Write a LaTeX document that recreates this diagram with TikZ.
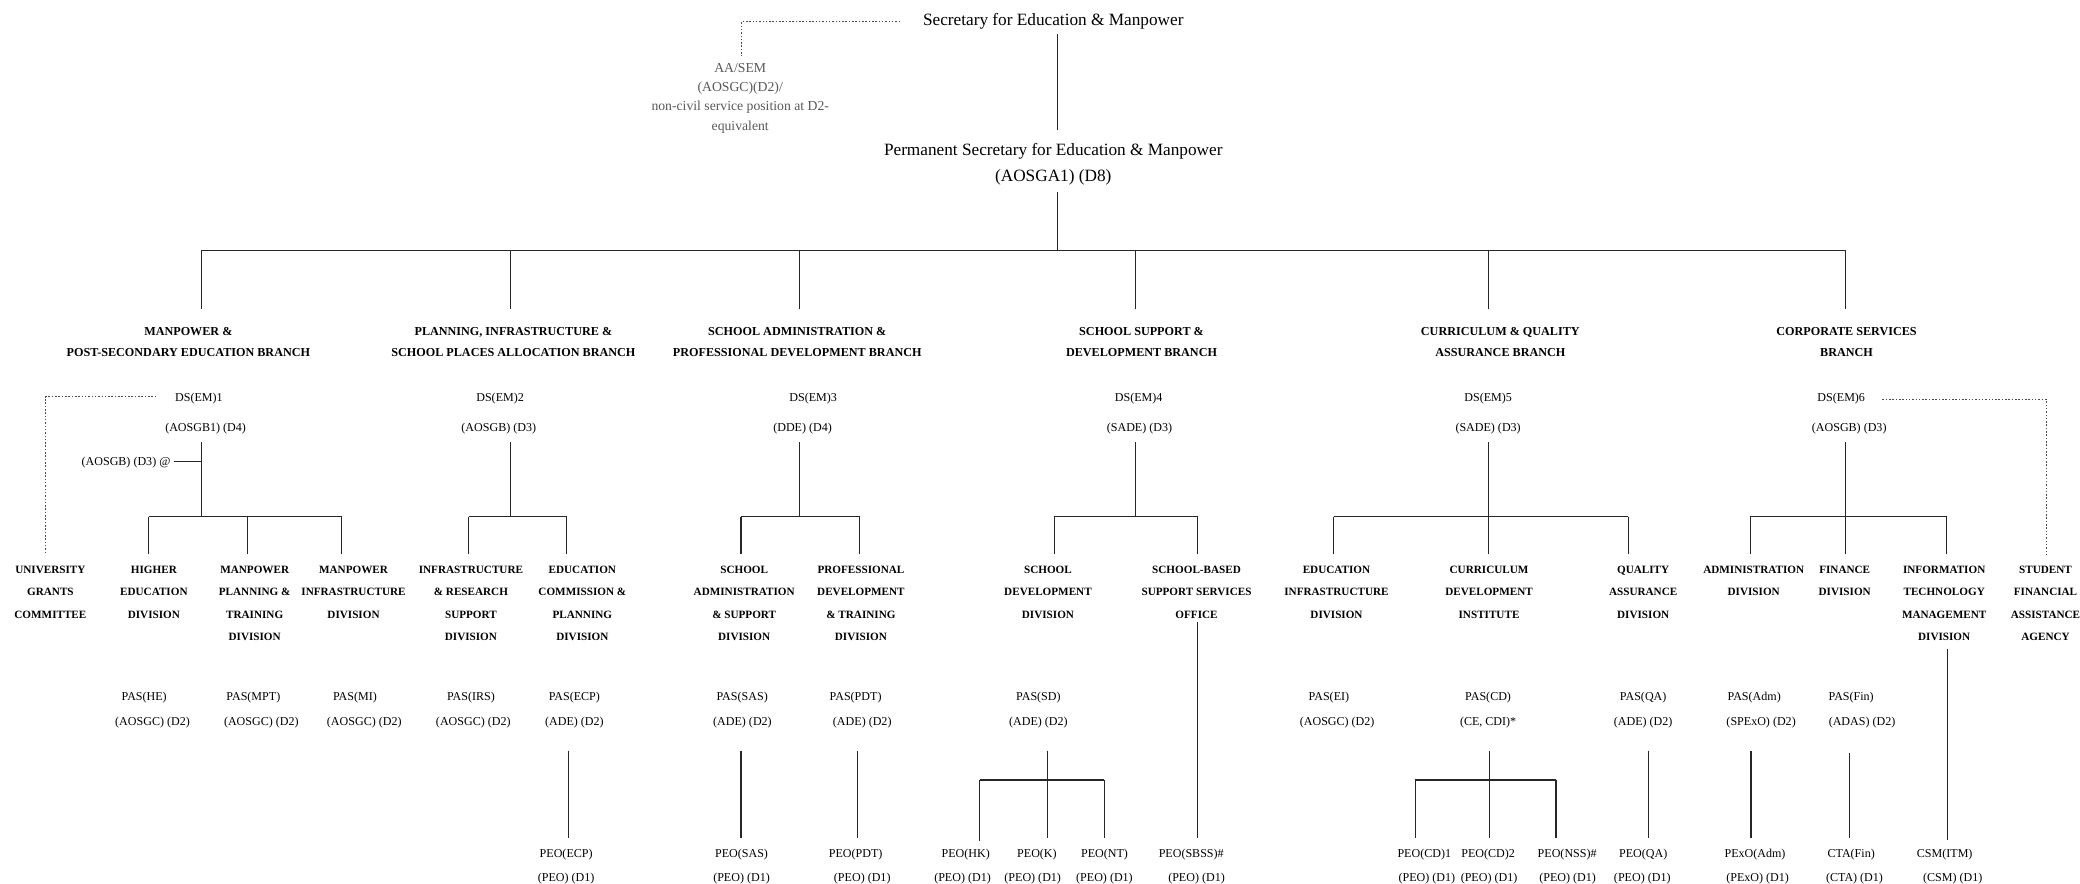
\documentclass[tikz,border=0pt]{standalone}
\usepackage{fontspec}
\setmainfont{Liberation Serif}
\begin{document}
\begin{tikzpicture}[x=0.6pt,y=-0.6pt,
  conn/.style={draw=black!85,line width=0.5pt},
  dotconn/.style={draw=black!70,line width=0.5pt,dash pattern=on 0.7pt off 0.8pt},
  toptext/.style={font=\fontsize{7.8}{10}\selectfont,inner sep=0pt,anchor=base},
  aatext/.style={font=\fontsize{6.2}{8.7}\selectfont,text=black!65,align=center,inner sep=0pt,anchor=north},
  branch/.style={font=\bfseries\fontsize{5.5}{9.6}\selectfont,align=center,inner sep=0pt,anchor=north},
  division/.style={font=\bfseries\fontsize{5.05}{10.08}\selectfont,align=center,inner sep=0pt,anchor=north},
  lbl/.style={font=\fontsize{5.45}{7}\selectfont,inner sep=0pt,anchor=base}]

\fill[white] (0,0) rectangle (1568,666);
\useasboundingbox (0,0) rectangle (1568,666);

% ---------------- top ----------------
\node[toptext] (sem) at (794,19.3) {Secretary for Education \& Manpower};
\node[aatext] (aasem) at (558,47.5) {AA/SEM\\(AOSGC)(D2)/\\non-civil service position at D2-\\equivalent};
\node[toptext] (ps) at (794,117.3) {Permanent Secretary for Education \& Manpower};
\node[toptext] (psg) at (794,137) {(AOSGA1) (D8)};

\coordinate (semdotR) at (678.5,16.3);
\coordinate (semdotC) at (559,16.3);
\coordinate (semdotB) at (559,42);
\draw[dotconn] (semdotR) -- (semdotC) -- (semdotB);

\coordinate (semL1) at (797.5,26);
\coordinate (psT) at (797.5,98);
\draw[conn] (semL1) -- (psT);
\coordinate (psB) at (797.5,145);
\coordinate (barC) at (797.5,189);
\draw[conn] (psB) -- (barC);

\coordinate (barL) at (151.8,189);
\coordinate (barR) at (1391.5,189);
\draw[conn] (barL) -- (barR);

\foreach \n/\x in {1/151.8,2/385,3/602.8,4/856,5/1122,6/1391.5}{
  \coordinate (drop\n a) at (\x,189);
  \coordinate (drop\n b) at (\x,233);
  \draw[conn] (drop\n a) -- (drop\n b);
}

% ---------------- branches ----------------
\node[branch] (br1) at (142,246.5) {MANPOWER \&\\POST-SECONDARY EDUCATION BRANCH};
\node[branch] (br2) at (387,246.5) {PLANNING, INFRASTRUCTURE \&\\SCHOOL PLACES ALLOCATION BRANCH};
\node[branch] (br3) at (601,246.5) {SCHOOL ADMINISTRATION \&\\PROFESSIONAL DEVELOPMENT BRANCH};
\node[branch] (br4) at (860.5,246.5) {SCHOOL SUPPORT \&\\DEVELOPMENT BRANCH};
\node[branch] (br5) at (1131,246.5) {CURRICULUM \& QUALITY\\ASSURANCE BRANCH};
\node[branch] (br6) at (1392,246.5) {CORPORATE SERVICES\\BRANCH};

% DS rows
\node[lbl] (ds1) at (150,302.5) {DS(EM)1};
\node[lbl] (ds1g) at (155,325.5) {(AOSGB1) (D4)};
\node[lbl] (ds2) at (377,302.5) {DS(EM)2};
\node[lbl] (ds2g) at (376,325.5) {(AOSGB) (D3)};
\node[lbl] (ds3) at (613,302.5) {DS(EM)3};
\node[lbl] (ds3g) at (605,325.5) {(DDE) (D4)};
\node[lbl] (ds4) at (858.4,302.5) {DS(EM)4};
\node[lbl] (ds4g) at (859,325.5) {(SADE) (D3)};
\node[lbl] (ds5) at (1121.8,302.5) {DS(EM)5};
\node[lbl] (ds5g) at (1121.8,325.5) {(SADE) (D3)};
\node[lbl] (ds6) at (1388,302.5) {DS(EM)6};
\node[lbl] (ds6g) at (1394,325.5) {(AOSGB) (D3)};
\node[lbl] (aosgb) at (95,351) {(AOSGB) (D3) @};

% dotted links
\coordinate (ds1dotR) at (117.7,299);
\coordinate (ds1dotC) at (34.5,299);
\coordinate (ugcT) at (34.5,417);
\draw[dotconn] (ds1dotR) -- (ds1dotC) -- (ugcT);
\coordinate (ds6dotL) at (1419,301);
\coordinate (ds6dotC) at (1542.5,301);
\coordinate (sfaaT) at (1542.5,419);
\draw[dotconn] (ds6dotL) -- (ds6dotC) -- (sfaaT);

% branch verticals and division bars
\foreach \n/\x/\l/\r in {1/151.8/112/257.5,2/385/353.4/427.1,3/602.8/558.6/648.2,4/856/794.7/903,5/1122/1005.5/1227.5,6/1391.5/1319.4/1467.5}{
  \coordinate (v\n a) at (\x,333.5);
  \coordinate (v\n b) at (\x,389.5);
  \coordinate (bar\n L) at (\l,389.5);
  \coordinate (bar\n R) at (\r,389.5);
  \draw[conn] (v\n a) -- (v\n b);
  \draw[conn] (bar\n L) -- (bar\n R);
}
\coordinate (aosgbR) at (131,348);
\coordinate (aosgbJ) at (151.8,348);
\draw[conn] (aosgbR) -- (aosgbJ);

% drops to divisions
\foreach \n/\x in {he/112,mpt/186.5,mi/257.5,irs/353.4,ecp/427.1,sas/558.6,pdt/648.2,sd/794.7,sbss/903,ei/1005.5,cd/1122,qa/1227.5,adm/1319.4,fin/1391.5,itm/1467.5}{
  \coordinate (dd\n a) at (\x,389.5);
  \coordinate (dd\n b) at (\x,417.5);
  \draw[conn] (dd\n a) -- (dd\n b);
}

% ---------------- divisions ----------------
\node[division] (ugc) at (38,426.5) {UNIVERSITY\\GRANTS\\COMMITTEE};
\node[division] (hed) at (116,426.5) {HIGHER\\EDUCATION\\DIVISION};
\node[division] (mptd) at (192,426.5) {MANPOWER\\PLANNING \&\\TRAINING\\DIVISION};
\node[division] (mid) at (266.5,426.5) {MANPOWER\\INFRASTRUCTURE\\DIVISION};
\node[division] (irsd) at (355,426.5) {INFRASTRUCTURE\\\& RESEARCH\\SUPPORT\\DIVISION};
\node[division] (ecpd) at (439,426.5) {EDUCATION\\COMMISSION \&\\PLANNING\\DIVISION};
\node[division] (sasd) at (561,426.5) {SCHOOL\\ADMINISTRATION\\\& SUPPORT\\DIVISION};
\node[division] (pdtd) at (649,426.5) {PROFESSIONAL\\DEVELOPMENT\\\& TRAINING\\DIVISION};
\node[division] (sdd) at (790,426.5) {SCHOOL\\DEVELOPMENT\\DIVISION};
\node[division] (sbsso) at (902,426.5) {SCHOOL-BASED\\SUPPORT SERVICES\\OFFICE};
\node[division] (eid) at (1007.5,426.5) {EDUCATION\\INFRASTRUCTURE\\DIVISION};
\node[division] (cdi) at (1122.5,426.5) {CURRICULUM\\DEVELOPMENT\\INSTITUTE};
\node[division] (qad) at (1238.7,426.5) {QUALITY\\ASSURANCE\\DIVISION};
\node[division] (admd) at (1322,426.5) {ADMINISTRATION\\DIVISION};
\node[division] (find) at (1390.6,426.5) {FINANCE\\DIVISION};
\node[division] (itmd) at (1465.6,426.5) {INFORMATION\\TECHNOLOGY\\MANAGEMENT\\DIVISION};
\node[division] (sfaa) at (1542,426.5) {STUDENT\\FINANCIAL\\ASSISTANCE\\AGENCY};

% ---------------- PAS ----------------
\node[lbl] (pashe) at (108.7,528) {PAS(HE)};
\node[lbl] (pasheg) at (115,547) {(AOSGC) (D2)};
\node[lbl] (pasmpt) at (191,528) {PAS(MPT)};
\node[lbl] (pasmptg) at (197,547) {(AOSGC) (D2)};
\node[lbl] (pasmi) at (267.6,528) {PAS(MI)};
\node[lbl] (pasmig) at (274.6,547) {(AOSGC) (D2)};
\node[lbl] (pasirs) at (355,528) {PAS(IRS)};
\node[lbl] (pasirsg) at (356.8,547) {(AOSGC) (D2)};
\node[lbl] (pasecp) at (433,528) {PAS(ECP)};
\node[lbl] (pasecpg) at (433,547) {(ADE) (D2)};
\node[lbl] (passas) at (559.5,528) {PAS(SAS)};
\node[lbl] (passasg) at (559.7,547) {(ADE) (D2)};
\node[lbl] (paspdt) at (645,528) {PAS(PDT)};
\node[lbl] (paspdtg) at (650,547) {(ADE) (D2)};
\node[lbl] (passd) at (782.8,528) {PAS(SD)};
\node[lbl] (passdg) at (782.8,547) {(ADE) (D2)};
\node[lbl] (pasei) at (1001.8,528) {PAS(EI)};
\node[lbl] (paseig) at (1008,547) {(AOSGC) (D2)};
\node[lbl] (pascd) at (1121.8,528) {PAS(CD)};
\node[lbl] (pascdg) at (1121.8,547) {(CE, CDI)*};
\node[lbl] (pasqa) at (1238.7,528) {PAS(QA)};
\node[lbl] (pasqag) at (1238.7,547) {(ADE) (D2)};
\node[lbl] (pasadm) at (1322.4,528) {PAS(Adm)};
\node[lbl] (pasadmg) at (1327.6,547) {(SPExO) (D2)};
\node[lbl] (pasfin) at (1395.5,528) {PAS(Fin)};
\node[lbl] (pasfing) at (1403.7,547) {(ADAS) (D2)};

% ---------------- PAS -> PEO connectors ----------------
\foreach \n/\x/\t in {ecp/428.8/566,sas/558.6/566,pdt/646.2/566,sd/789.5/566,cd/1122.9/566,qa/1242.5/566,adm/1320/566,fin/1394.4/568}{
  \coordinate (pv\n a) at (\x,\t);
  \coordinate (pv\n b) at (\x,632);
  \draw[conn] (pv\n a) -- (pv\n b);
}
\coordinate (sdbarL) at (738.4,588);
\coordinate (sdbarR) at (832.6,588);
\draw[conn] (sdbarL) -- (sdbarR);
\coordinate (hkb) at (738.4,634);
\coordinate (ntb) at (832.6,632);
\draw[conn] (sdbarL) -- (hkb);
\draw[conn] (sdbarR) -- (ntb);
\coordinate (cdbarL) at (1067,588);
\coordinate (cdbarR) at (1173,588);
\draw[conn] (cdbarL) -- (cdbarR);
\coordinate (cd1b) at (1067,632);
\coordinate (nssb) at (1173,632);
\draw[conn] (cdbarL) -- (cd1b);
\draw[conn] (cdbarR) -- (nssb);
\coordinate (sbssT) at (902.8,469);
\coordinate (sbssB) at (902.8,632);
\draw[conn] (sbssT) -- (sbssB);
\coordinate (itmT) at (1468,489);
\coordinate (itmB) at (1468,633);
\draw[conn] (itmT) -- (itmB);

% ---------------- PEO ----------------
\node[lbl] (peoecp) at (426.8,646.5) {PEO(ECP)};
\node[lbl] (peoecpg) at (426.8,664.5) {(PEO) (D1)};
\node[lbl] (peosas) at (559,646.5) {PEO(SAS)};
\node[lbl] (peosasg) at (559,664.5) {(PEO) (D1)};
\node[lbl] (peopdt) at (645,646.5) {PEO(PDT)};
\node[lbl] (peopdtg) at (650,664.5) {(PEO) (D1)};
\node[lbl] (peohk) at (728,646.5) {PEO(HK)};
\node[lbl] (peohkg) at (725.6,664.5) {(PEO) (D1)};
\node[lbl] (peok) at (781.7,646.5) {PEO(K)};
\node[lbl] (peokg) at (778.5,664.5) {(PEO) (D1)};
\node[lbl] (peont) at (832.6,646.5) {PEO(NT)};
\node[lbl] (peontg) at (832.6,664.5) {(PEO) (D1)};
\node[lbl] (peosbss) at (898,646.5) {PEO(SBSS)\#};
\node[lbl] (peosbssg) at (902,664.5) {(PEO) (D1)};
\node[lbl] (peocda) at (1073.7,646.5) {PEO(CD)1};
\node[lbl] (peocdag) at (1075.6,664.5) {(PEO) (D1)};
\node[lbl] (peocdb) at (1121.8,646.5) {PEO(CD)2};
\node[lbl] (peocdbg) at (1122.5,664.5) {(PEO) (D1)};
\node[lbl] (peonss) at (1181.4,646.5) {PEO(NSS)\#};
\node[lbl] (peonssg) at (1181.7,664.5) {(PEO) (D1)};
\node[lbl] (peoqa) at (1238.7,646.5) {PEO(QA)};
\node[lbl] (peoqag) at (1238,664.5) {(PEO) (D1)};
\node[lbl] (pexoadm) at (1323,646.5) {PExO(Adm)};
\node[lbl] (pexoadmg) at (1325,664.5) {(PExO) (D1)};
\node[lbl] (ctafin) at (1395.5,646.5) {CTA(Fin)};
\node[lbl] (ctafing) at (1398,664.5) {(CTA) (D1)};
\node[lbl] (csmitm) at (1466,646.5) {CSM(ITM)};
\node[lbl] (csmitmg) at (1472,664.5) {(CSM) (D1)};
\end{tikzpicture}
\end{document}
